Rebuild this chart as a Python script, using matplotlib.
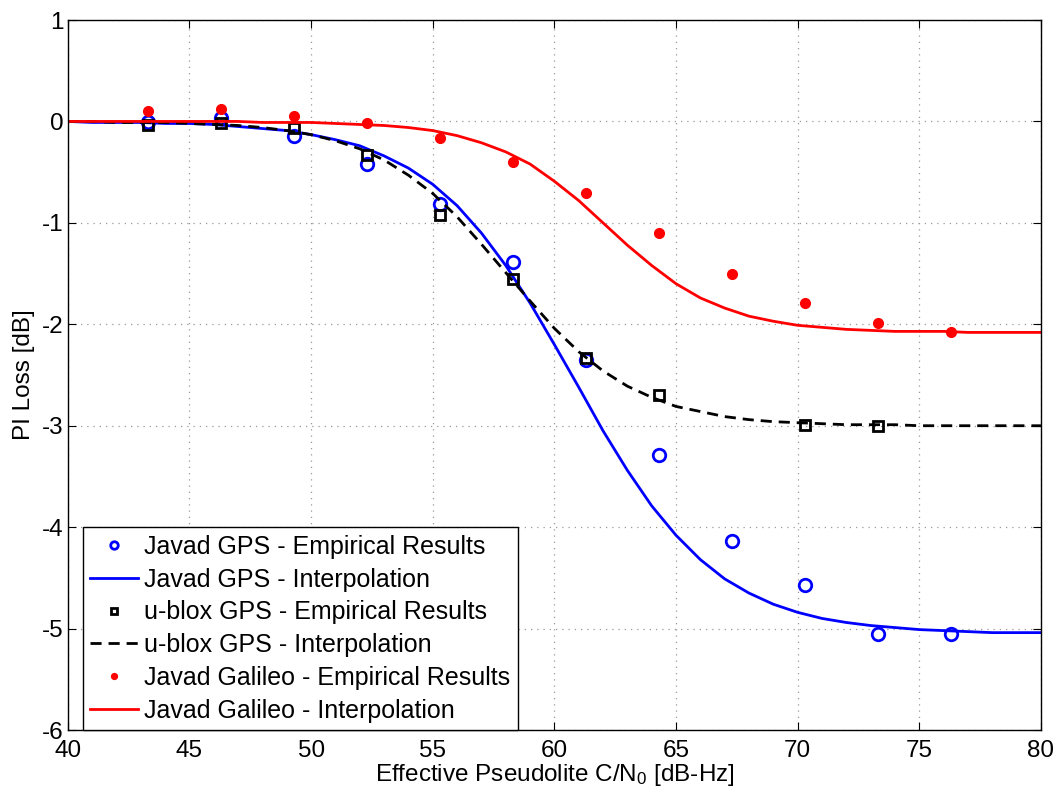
import matplotlib
matplotlib.use("Agg")
import matplotlib.pyplot as plt

plt.rcParams['font.family'] = ['Liberation Sans', 'DejaVu Sans']
plt.rcParams['mathtext.default'] = 'regular'
plt.rcParams['axes.unicode_minus'] = False

# measured points
x_pts = [43.3, 46.3, 49.3, 52.3, 55.3, 58.3, 61.3, 64.3, 67.3, 70.3, 73.3, 76.3]
javad_gps = [-0.01, 0.03, -0.14, -0.42, -0.81, -1.39, -2.35, -3.29, -4.14, -4.57, -5.05, -5.05]
ublox_x = [43.3, 46.3, 49.3, 52.3, 55.3, 58.3, 61.3, 64.3, 70.3, 73.3]
ublox_gps = [-0.04, -0.02, -0.06, -0.33, -0.92, -1.55, -2.33, -2.70, -2.99, -3.00]
javad_gal = [0.10, 0.12, 0.05, -0.02, -0.16, -0.40, -0.71, -1.10, -1.50, -1.79, -1.99, -2.08]

# interpolation curves (at integer C/N0)
x_fit = list(range(40, 81))
gps_fit = [0.00, -0.01, -0.01, -0.01, -0.02, -0.02, -0.03, -0.05, -0.07, -0.09,
           -0.13, -0.18, -0.24, -0.34, -0.46, -0.62, -0.83, -1.10, -1.42, -1.79,
           -2.20, -2.62, -3.05, -3.44, -3.79, -4.08, -4.32, -4.51, -4.65, -4.76,
           -4.84, -4.90, -4.94, -4.97, -4.99, -5.01, -5.02, -5.03, -5.04, -5.04,
           -5.04]
ublox_fit = [0.00, 0.00, -0.01, -0.01, -0.01, -0.02, -0.03, -0.04, -0.06, -0.09,
             -0.13, -0.19, -0.27, -0.38, -0.53, -0.71, -0.94, -1.21, -1.49, -1.77,
             -2.04, -2.27, -2.46, -2.61, -2.72, -2.81, -2.86, -2.91, -2.94, -2.96,
             -2.97, -2.98, -2.99, -2.99, -2.99, -3.00, -3.00, -3.00, -3.00, -3.00,
             -3.00]
gal_fit = [0.00, 0.00, 0.00, 0.00, 0.00, 0.00, 0.00, 0.00, -0.01, -0.01,
           -0.01, -0.02, -0.03, -0.04, -0.06, -0.09, -0.14, -0.21, -0.30, -0.42,
           -0.59, -0.78, -1.00, -1.22, -1.42, -1.60, -1.74, -1.84, -1.92, -1.97,
           -2.01, -2.03, -2.05, -2.06, -2.07, -2.07, -2.07, -2.08, -2.08, -2.08,
           -2.08]

FS = 17.5

fig = plt.figure(figsize=(10.6, 7.94), dpi=100)
ax = fig.add_axes([0.064, 0.0806, 0.918, 0.8942])

ax.plot(x_pts, javad_gps, 'o', color='blue', mfc='none', mew=2, ms=9,
        label='Javad GPS - Empirical Results')
ax.plot(x_fit, gps_fit, '-', color='blue', lw=2,
        label='Javad GPS - Interpolation')
ax.plot(ublox_x, ublox_gps, 's', color='black', mfc='none', mew=2, ms=7,
        label='u-blox GPS - Empirical Results')
ax.plot(x_fit, ublox_fit, '--', color='black', lw=2, dashes=(4, 2.5),
        label='u-blox GPS - Interpolation')
ax.plot(x_pts, javad_gal, 'o', color='red', ms=7,
        label='Javad Galileo - Empirical Results')
ax.plot(x_fit, gal_fit, '-', color='red', lw=2,
        label='Javad Galileo - Interpolation')

ax.set_xlim(40, 80)
ax.set_ylim(-6, 1)
ax.set_xticks(range(40, 81, 5))
ax.set_yticks(range(-6, 2))
ax.grid(True, linestyle=(0, (1, 4)), color='#999999', lw=0.9)
ax.tick_params(direction='in', top=True, right=True, labelsize=FS, length=6)
ax.tick_params(axis='x', pad=7)
ax.tick_params(axis='y', pad=3)
for s in ax.spines.values():
    s.set_linewidth(1.0)

ax.set_xlabel('Effective Pseudolite C/N$_0$ [dB-Hz]', fontsize=FS, labelpad=0)
ax.set_ylabel('PI Loss [dB]', fontsize=FS, labelpad=5)

leg = ax.legend(loc='lower left', bbox_to_anchor=(0.0155, 0.0), borderaxespad=0,
                fontsize=18, fancybox=False, framealpha=1, edgecolor='black',
                handlelength=1.9, handletextpad=0.25, labelspacing=0.35,
                borderpad=0.3, markerscale=0.6)
leg.get_frame().set_linewidth(1.0)

fig.savefig('out.png', dpi=100)
